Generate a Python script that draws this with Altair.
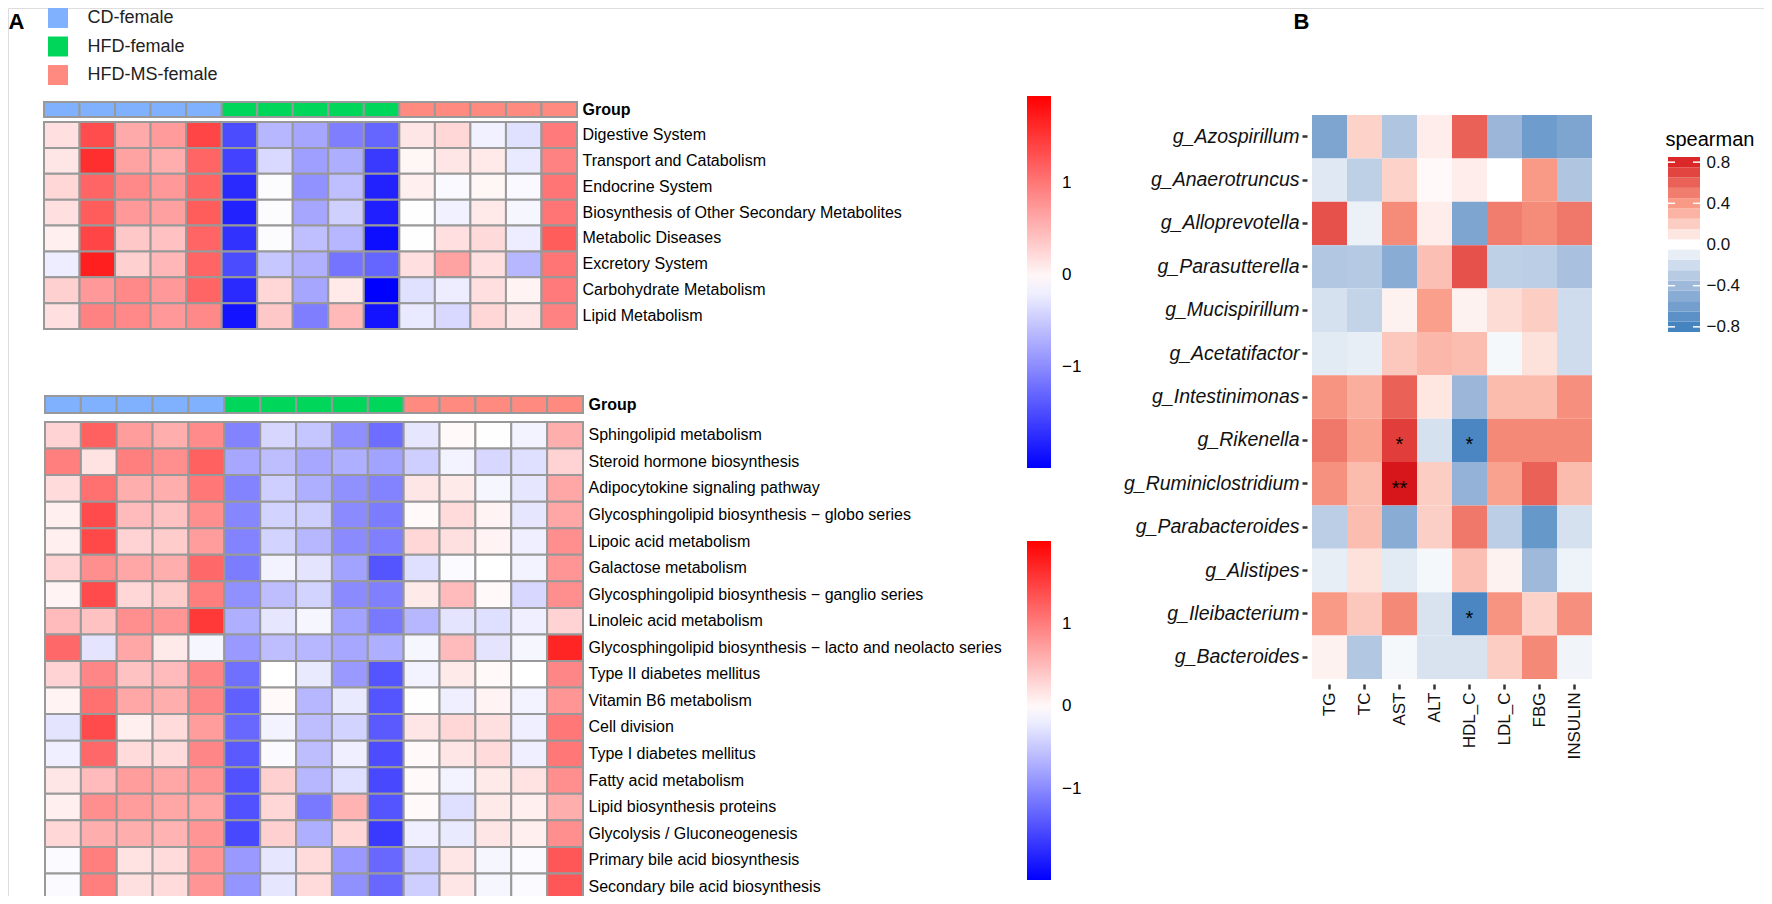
import altair as alt
import pandas as pd

W, H = 1756, 888          # chart size (page is 1772x904 with 8px margin)
M = 8
FONT = "Liberation Sans"
GRID = "#999999"


def px(v):
    return v - M


# ---------------- data: panel A ----------------
groups = ["CD-female", "HFD-female", "HFD-MS-female"]
group_colors = ["#80B1FF", "#00D65A", "#FF8B80"]
samples = [f"S{i}" for i in range(1, 16)]
sample_group = ["CD-female"] * 5 + ["HFD-female"] * 5 + ["HFD-MS-female"] * 5

top_rows = ["Digestive System", "Transport and Catabolism", "Endocrine System",
            "Biosynthesis of Other Secondary Metabolites", "Metabolic Diseases",
            "Excretory System", "Carbohydrate Metabolism", "Lipid Metabolism"]
top_vals = [
    [0.18, 1.35, 0.60, 0.72, 1.40, -1.50, -0.65, -0.78, -1.10, -1.30, 0.12, 0.24, -0.19, -0.32, 0.98],
    [0.12, 1.58, 0.66, 0.58, 1.15, -1.57, -0.38, -0.84, -0.72, -1.64, 0.00, 0.12, 0.10, -0.25, 0.92],
    [0.24, 1.15, 0.86, 0.74, 1.15, -1.77, -0.10, -0.95, -0.58, -1.83, 0.05, -0.12, 0.00, -0.12, 1.03],
    [0.18, 1.22, 0.74, 0.68, 1.22, -1.83, -0.10, -0.78, -0.45, -1.85, -0.08, -0.19, 0.10, -0.15, 1.03],
    [0.05, 1.40, 0.36, 0.42, 1.15, -1.70, -0.10, -0.58, -0.65, -2.00, -0.08, 0.18, 0.22, -0.22, 1.22],
    [-0.22, 1.70, 0.30, 0.50, 1.15, -1.50, -0.52, -0.70, -1.18, -1.30, 0.18, 0.66, 0.18, -0.65, 1.03],
    [0.30, 0.74, 0.86, 0.74, 1.15, -1.77, 0.24, -0.78, 0.10, -2.10, -0.32, -0.22, 0.18, 0.02, 0.98],
    [0.18, 0.92, 0.86, 0.74, 0.86, -1.95, 0.36, -1.10, 0.48, -1.95, -0.25, -0.38, 0.24, 0.12, 0.92],
]

bot_rows = ["Sphingolipid metabolism", "Steroid hormone biosynthesis",
            "Adipocytokine signaling pathway",
            "Glycosphingolipid biosynthesis \u2212 globo series", "Lipoic acid metabolism",
            "Galactose metabolism", "Glycosphingolipid biosynthesis \u2212 ganglio series",
            "Linoleic acid metabolism",
            "Glycosphingolipid biosynthesis \u2212 lacto and neolacto series",
            "Type II diabetes mellitus", "Vitamin B6 metabolism", "Cell division",
            "Type I diabetes mellitus", "Fatty acid metabolism", "Lipid biosynthesis proteins",
            "Glycolysis / Gluconeogenesis", "Primary bile acid biosynthesis",
            "Secondary bile acid biosynthesis"]
bot_vals = [
    [0.30, 1.22, 0.74, 0.60, 0.88, -1.05, -0.38, -0.52, -0.95, -1.22, -0.25, 0.00, -0.04, -0.15, 0.60],
    [0.98, 0.18, 0.98, 0.86, 1.22, -0.76, -0.57, -0.76, -0.69, -0.80, -0.44, -0.15, -0.37, -0.31, 0.30],
    [0.24, 1.10, 0.60, 0.60, 1.04, -1.05, -0.44, -0.69, -0.94, -1.05, 0.15, 0.12, -0.12, -0.25, 0.66],
    [0.08, 1.40, 0.50, 0.44, 0.86, -1.02, -0.40, -0.44, -0.98, -1.10, 0.00, 0.24, 0.05, -0.25, 0.66],
    [0.08, 1.42, 0.30, 0.36, 0.74, -1.05, -0.40, -0.63, -0.98, -1.07, 0.27, 0.20, 0.05, -0.18, 0.86],
    [0.30, 0.86, 0.66, 0.60, 1.16, -1.10, -0.15, -0.27, -0.80, -1.42, -0.31, -0.08, -0.05, -0.15, 0.80],
    [0.05, 1.40, 0.27, 0.36, 0.98, -0.94, -0.57, -0.40, -0.98, -1.07, 0.12, 0.50, 0.00, -0.37, 0.86],
    [0.50, 0.44, 0.86, 0.80, 1.55, -0.69, -0.25, -0.12, -0.80, -1.13, -0.63, -0.27, -0.31, -0.18, 0.30],
    [1.16, -0.27, 0.66, 0.12, -0.12, -0.87, -0.57, -0.63, -0.76, -0.69, -0.12, 0.50, -0.27, -0.12, 1.70],
    [0.30, 0.92, 0.44, 0.50, 0.92, -1.20, -0.05, -0.22, -0.87, -1.42, -0.15, 0.12, 0.00, -0.05, 0.92],
    [0.05, 1.10, 0.66, 0.60, 0.92, -1.33, 0.00, -0.63, -0.22, -1.42, -0.04, -0.18, 0.05, -0.15, 0.80],
    [-0.27, 1.40, 0.08, 0.24, 0.74, -1.26, -0.15, -0.57, -0.40, -1.38, 0.15, 0.27, 0.20, -0.18, 1.04],
    [-0.18, 1.16, 0.24, 0.24, 0.92, -1.38, -0.08, -0.57, -0.18, -1.48, 0.00, 0.15, 0.24, -0.18, 1.04],
    [0.15, 0.50, 0.74, 0.66, 0.80, -1.45, 0.33, -0.63, -0.31, -1.52, 0.00, -0.15, 0.12, 0.18, 0.86],
    [0.08, 0.86, 0.74, 0.66, 0.66, -1.45, 0.27, -1.13, 0.56, -1.42, 0.00, -0.31, 0.12, 0.08, 0.60],
    [0.27, 0.60, 0.60, 0.56, 0.80, -1.52, 0.33, -0.69, 0.27, -1.63, -0.18, -0.22, 0.15, 0.08, 0.86],
    [-0.08, 0.98, 0.18, 0.24, 0.80, -0.87, -0.25, 0.24, -0.87, -1.26, -0.44, 0.15, -0.12, -0.08, 1.30],
    [-0.08, 0.98, 0.20, 0.24, 0.80, -0.90, -0.25, 0.24, -0.94, -1.26, -0.44, 0.15, -0.12, -0.08, 1.30],
]

# ---------------- data: panel B ----------------
genera = ["g_Azospirillum", "g_Anaerotruncus", "g_Alloprevotella", "g_Parasutterella",
          "g_Mucispirillum", "g_Acetatifactor", "g_Intestinimonas", "g_Rikenella",
          "g_Ruminiclostridium", "g_Parabacteroides", "g_Alistipes", "g_Ileibacterium",
          "g_Bacteroides"]
clinical = ["TG", "TC", "AST", "ALT", "HDL_C", "LDL_C", "FBG", "INSULIN"]
rho = [
    [-0.55, 0.18, -0.33, 0.07, 0.60, -0.42, -0.62, -0.55],
    [-0.13, -0.27, 0.18, 0.02, 0.07, 0.00, 0.40, -0.33],
    [0.65, -0.08, 0.45, 0.07, -0.55, 0.50, 0.45, 0.52],
    [-0.32, -0.31, -0.50, 0.25, 0.65, -0.27, -0.28, -0.36],
    [-0.17, -0.25, 0.05, 0.38, 0.05, 0.14, 0.20, -0.20],
    [-0.12, -0.10, 0.22, 0.28, 0.26, -0.04, 0.12, -0.20],
    [0.42, 0.32, 0.60, 0.10, -0.42, 0.27, 0.27, 0.44],
    [0.52, 0.37, 0.72, -0.17, -0.78, 0.46, 0.46, 0.46],
    [0.43, 0.27, 0.86, 0.20, -0.45, 0.37, 0.60, 0.27],
    [-0.28, 0.26, -0.50, 0.19, 0.52, -0.28, -0.65, -0.17],
    [-0.10, 0.12, -0.12, -0.04, 0.25, 0.05, -0.40, -0.07],
    [0.40, 0.22, 0.46, -0.16, -0.78, 0.42, 0.18, 0.44],
    [0.05, -0.32, -0.04, -0.16, -0.16, 0.20, 0.46, -0.06],
]
star_genus = ["g_Rikenella", "g_Rikenella", "g_Ruminiclostridium", "g_Ileibacterium"]
star_var = ["AST", "HDL_C", "AST", "HDL_C"]
star_text = ["*", "*", "**", "*"]

legend_bins = [-0.8, -0.7, -0.6, -0.5, -0.4, -0.3, -0.2, -0.1,
               0.1, 0.2, 0.3, 0.4, 0.5, 0.6, 0.7, 0.8]
legend_ticks = [-0.8, -0.4, 0.4, 0.8]

# ---------------- tables ----------------
df_top = pd.DataFrame([(s, r, v) for r, row in zip(top_rows, top_vals)
                       for s, v in zip(samples, row)], columns=["sample", "pathway", "z"])
df_bot = pd.DataFrame([(s, r, v) for r, row in zip(bot_rows, bot_vals)
                       for s, v in zip(samples, row)], columns=["sample", "pathway", "z"])
df_gb = pd.DataFrame({"sample": samples, "group": sample_group, "row": "Group"})
df_leg = pd.DataFrame({"group": groups, "k": "k"})
df_rho = pd.DataFrame([(g, c, v) for g, row in zip(genera, rho)
                       for c, v in zip(clinical, row)], columns=["genus", "var", "rho"])
df_star = pd.DataFrame({"genus": star_genus, "var": star_var, "lab": star_text})
df_sl = pd.DataFrame({"v": legend_bins,
                      "lo": [b - 0.05 for b in legend_bins],
                      "hi": [b + 0.05 for b in legend_bins],
                      "x0": 0.0, "x1": 1.0})
df_tk = pd.DataFrame({"lo": legend_ticks * 2,
                      "x0": [0.0] * 4 + [0.78] * 4,
                      "x1": [0.22] * 4 + [1.0] * 4})

group_scale = alt.Scale(domain=groups, range=group_colors)


def band(domain, a, b):
    return alt.Scale(domain=domain, range=[px(a), px(b)], paddingInner=0, paddingOuter=0)


# ---------------- group legend + "A" ----------------
legend_layer = alt.Chart(df_leg).mark_rect().encode(
    x=alt.X("k:N", scale=band(["k"], 48, 68), axis=None),
    y=alt.Y("group:N",
            scale=alt.Scale(domain=groups, range=[px(8), px(85)], paddingInner=0.3, paddingOuter=0),
            axis=alt.Axis(orient="right", offset=px(68) - W, labelPadding=19, ticks=False,
                          domain=False, labelFontSize=18, labelFont=FONT, labelColor="#222222",
                          title="A", titleAngle=0, titleX=px(8) - px(68), titleY=px(28),
                          titleAlign="left", titleBaseline="alphabetic", titleFontSize=22,
                          titleFontWeight="bold", titleFont=FONT, titleColor="black")),
    color=alt.Color("group:N", scale=group_scale, legend=None),
)


def group_bar(x0, x1, y0, y1):
    return alt.Chart(df_gb).mark_rect(stroke=GRID, strokeWidth=2).encode(
        x=alt.X("sample:N", scale=band(samples, x0, x1), axis=None),
        y=alt.Y("row:N", scale=band(["Group"], y0, y1),
                axis=alt.Axis(orient="right", offset=px(x1) - W, labelPadding=5, ticks=False,
                              domain=False, labelFontSize=16, labelFontWeight="bold",
                              labelFont=FONT, labelColor="black", title=None)),
        color=alt.Color("group:N", scale=group_scale, legend=None),
    )


def heat(df, rows, x0, x1, y0, y1, cdom, leg_y, leg_len):
    return alt.Chart(df).mark_rect(stroke=GRID, strokeWidth=2).encode(
        x=alt.X("sample:N", scale=band(samples, x0, x1), axis=None),
        y=alt.Y("pathway:N", scale=band(rows, y0, y1),
                axis=alt.Axis(orient="right", offset=px(x1) - W, labelPadding=5, ticks=False,
                              domain=False, labelFontSize=16, labelFont=FONT, labelColor="black",
                              labelLimit=1000, title=None)),
        color=alt.Color("z:Q",
                        scale=alt.Scale(domain=cdom, range=["#0000FF", "#FFFFFF", "#FF0000"],
                                        interpolate="rgb"),
                        legend=alt.Legend(orient="none", legendX=px(1027), legendY=px(leg_y),
                                          direction="vertical", gradientLength=leg_len,
                                          gradientThickness=24, title=None, values=[-1, 0, 1],
                                          format="d", labelFontSize=17, labelOffset=11,
                                          labelFont=FONT, labelColor="black",
                                          gradientStrokeWidth=0, padding=0,
                                          labelOverlap=False)),
    )


top_bar = group_bar(44, 577, 102, 117)
top_heat = heat(df_top, top_rows, 44, 577, 122, 329, [-2.1, -0.075, 1.95], 96, 372)
bot_bar = group_bar(45, 583, 396, 413)
bot_heat = heat(df_bot, bot_rows, 45, 583, 422, 900, [-2.1, -0.05, 2.0], 541, 339)

# ---------------- panel B ----------------
sp_scale = alt.Scale(domain=[-0.85, -0.4, 0, 0.4, 0.85],
                     range=["#3B7DBD", "#9FB9DA", "#FFFFFF", "#F99A86", "#D7191C"],
                     interpolate="rgb")

bx = alt.X("var:N", scale=band(clinical, 1312, 1592),
           axis=alt.Axis(orient="bottom", offset=px(684) - H, labelAngle=-90, labelFontSize=17,
                         labelFont=FONT, labelColor="#111111", tickSize=5, tickWidth=2.5,
                         tickColor="#333333", domain=False, labelPadding=3, title=None))
by = alt.Y("genus:N", scale=band(genera, 115, 679),
           axis=alt.Axis(orient="left", offset=-px(1307), labelFontSize=19.5, labelFont=FONT,
                         labelFontStyle="italic", labelColor="#111111", tickSize=5,
                         tickWidth=2.5, tickColor="#333333", domain=False, labelPadding=3,
                         labelLimit=400, title="B", titleAngle=0,
                         titleX=px(1293) - px(1307), titleY=px(28), titleAlign="left",
                         titleBaseline="alphabetic", titleFontSize=22, titleFontWeight="bold",
                         titleFont=FONT, titleColor="black"))

rho_rect = alt.Chart(df_rho).mark_rect().encode(
    x=bx, y=by, color=alt.Color("rho:Q", scale=sp_scale, legend=None))
rho_star = alt.Chart(df_star).mark_text(fontSize=20, font=FONT, color="black",
                                        baseline="middle", dy=5).encode(
    x=bx, y=by, text="lab:N")
panel_b = alt.layer(rho_rect, rho_star)

# spearman legend (stepped bar)
leg_y_scale = alt.Scale(domain=[-0.85, 0.85], range=[px(332), px(157)], nice=False, zero=False)
leg_x_scale = alt.Scale(domain=[0, 1], range=[px(1668), px(1700)], nice=False, zero=False)
leg_axis = alt.Axis(orient="right", offset=px(1700) - W, values=[-0.8, -0.4, 0, 0.4, 0.8],
                    format=".1f", labelFontSize=17, labelFont=FONT, labelColor="#111111",
                    ticks=False, domain=False, grid=False, labelPadding=6,
                    title="spearman", titleAngle=0, titleX=px(1665) - px(1700),
                    titleY=px(145), titleAlign="left", titleBaseline="alphabetic",
                    titleFontSize=20, titleFontWeight="normal", titleFont=FONT,
                    titleColor="black")
ly = alt.Y("lo:Q", scale=leg_y_scale, axis=leg_axis)
lx = alt.X("x0:Q", scale=leg_x_scale, axis=None)
sl_rect = alt.Chart(df_sl).mark_rect().encode(
    x=lx, x2="x1:Q", y=ly, y2="hi:Q",
    color=alt.Color("v:Q", scale=sp_scale, legend=None))
sl_tick = alt.Chart(df_tk).mark_rule(color="white", strokeWidth=1.5).encode(
    x=lx, x2="x1:Q", y=ly)
sp_legend = alt.layer(sl_rect, sl_tick)

chart = alt.layer(
    legend_layer, top_bar, top_heat, bot_bar, bot_heat, panel_b, sp_legend
).resolve_scale(
    x="independent", y="independent", color="independent"
).resolve_axis(
    x="independent", y="independent"
).resolve_legend(
    color="independent"
).properties(
    width=W, height=H, padding=0, autosize=alt.AutoSizeParams(type="none")
).configure_view(
    strokeWidth=0
).configure_axis(
    domain=False, grid=False
).configure(
    font=FONT
)

chart.save("out.html", embed_options={"renderer": "svg", "actions": False})
